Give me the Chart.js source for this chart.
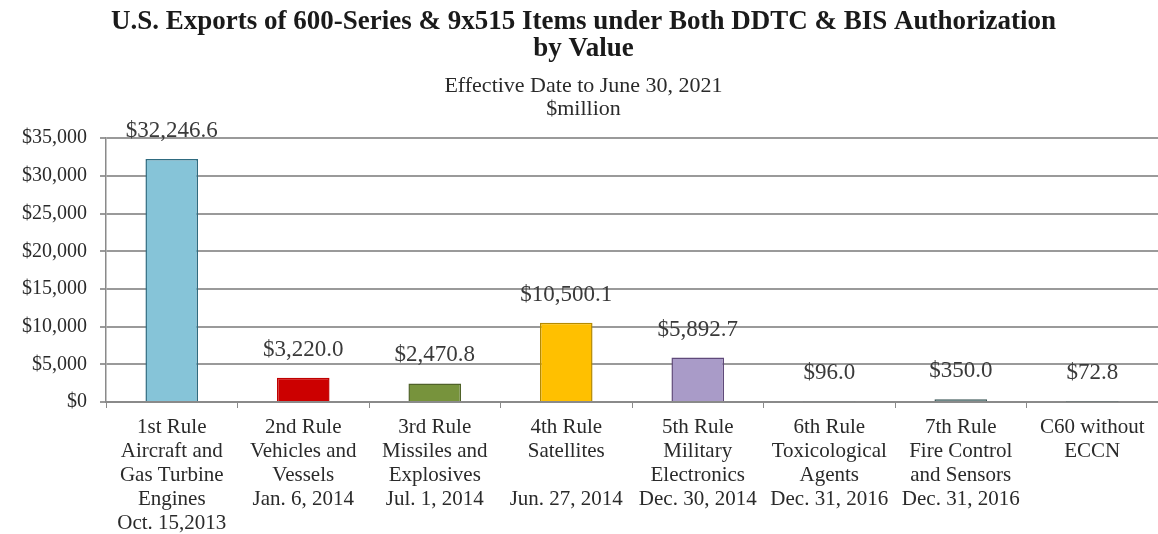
<!DOCTYPE html>
<html>
<head>
<meta charset="utf-8">
<script src="https://cdn.jsdelivr.net/npm/chart.js@4.4.0/dist/chart.umd.min.js"></script>
<style>
  html, body { margin: 0; padding: 0; background: #fff; }
  #wrap { width: 1158px; height: 534px; }
</style>
</head>
<body>
<div id="wrap"><canvas id="myChart"></canvas></div>
<script>
const categories = [
    ['1st Rule', 'Aircraft and', 'Gas Turbine', 'Engines', 'Oct. 15,2013'],
    ['2nd Rule', 'Vehicles and', 'Vessels', 'Jan. 6, 2014'],
    ['3rd Rule', 'Missiles and', 'Explosives', 'Jul. 1, 2014'],
    ['4th Rule', 'Satellites', '', 'Jun. 27, 2014'],
    ['5th Rule', 'Military', 'Electronics', 'Dec. 30, 2014'],
    ['6th Rule', 'Toxicological', 'Agents', 'Dec. 31, 2016'],
    ['7th Rule', 'Fire Control', 'and Sensors', 'Dec. 31, 2016'],
    ['C60 without', 'ECCN']
];
const exportValues = [32246.6, 3220.0, 2470.8, 10500.1, 5892.7, 96.0, 350.0, 72.8];
const yTicks = [0, 5000, 10000, 15000, 20000, 25000, 30000, 35000];

const barColors = ['#86c4d8', '#cc0000', '#77933c', '#ffc000', '#a99bc8', '#4f6f6f', '#4f6f6f', '#4f6f6f'];
const barBorders = ['#2f6b80', '#c00000', '#4f6228', '#b58a00', '#5f497a', '#3b5555', '#3b5555', '#3b5555'];

const serif = '"Liberation Serif", "Times New Roman", serif';

function money(v, digits) {
    return '$' + v.toLocaleString('en-US', { minimumFractionDigits: digits, maximumFractionDigits: digits });
}

// value labels above the bars
const valueLabels = {
    id: 'valueLabels',
    afterDatasetsDraw(chart) {
        const c = chart.ctx;
        const meta = chart.getDatasetMeta(0);
        c.save();
        c.font = '23px ' + serif;
        c.fillStyle = '#3a3a3a';
        c.textAlign = 'center';
        c.textBaseline = 'middle';
        meta.data.forEach((bar, i) => {
            c.fillText(money(exportValues[i], 1), bar.x, bar.y - 28);
        });
        c.restore();
    }
};

new Chart(document.getElementById('myChart'), {
    type: 'bar',
    data: {
        labels: categories,
        datasets: [{
            data: exportValues,
            backgroundColor: barColors,
            borderColor: barBorders,
            borderWidth: 1.5,
            categoryPercentage: 1,
            barPercentage: 0.4
        }]
    },
    options: {
        responsive: true,
        maintainAspectRatio: false,
        animation: false,
        layout: { padding: { left: 9, right: 0, top: 0, bottom: 0 } },
        plugins: {
            legend: { display: false },
            tooltip: { enabled: false },
            title: {
                display: true,
                text: ['U.S. Exports of 600-Series & 9x515 Items under Both DDTC & BIS Authorization', 'by Value'],
                color: '#1a1a1a',
                font: { family: serif, size: 27, weight: 'bold', lineHeight: 1.0 },
                padding: { top: 9, bottom: 8 }
            },
            subtitle: {
                display: true,
                text: ['Effective Date to June 30, 2021', '$million'],
                color: '#2a2a2a',
                font: { family: serif, size: 22, lineHeight: 1.05 },
                padding: { top: 4, bottom: 17 }
            }
        },
        scales: {
            x: {
                grid: {
                    drawOnChartArea: false,
                    drawTicks: true,
                    tickLength: 6,
                    color: '#8a8a8a'
                },
                border: { color: '#8a8a8a', width: 2 },
                ticks: {
                    color: '#2a2a2a',
                    font: { family: serif, size: 21, lineHeight: 1.143 },
                    padding: 7,
                    maxRotation: 0,
                    autoSkip: false
                },
                afterFit(scale) {
                    scale.height = 132;
                }
            },
            y: {
                min: 0,
                max: 35000,
                afterBuildTicks(axis) {
                    axis.ticks = yTicks.map(v => ({ value: v }));
                },
                grid: {
                    color: '#9a9a9a',
                    lineWidth: 2,
                    tickLength: 6
                },
                border: { color: '#8a8a8a', width: 1.5 },
                ticks: {
                    color: '#2a2a2a',
                    font: { family: serif, size: 20 },
                    padding: 13,
                    callback: v => money(v, 0)
                }
            }
        }
    },
    plugins: [valueLabels]
});
</script>
</body>
</html>
